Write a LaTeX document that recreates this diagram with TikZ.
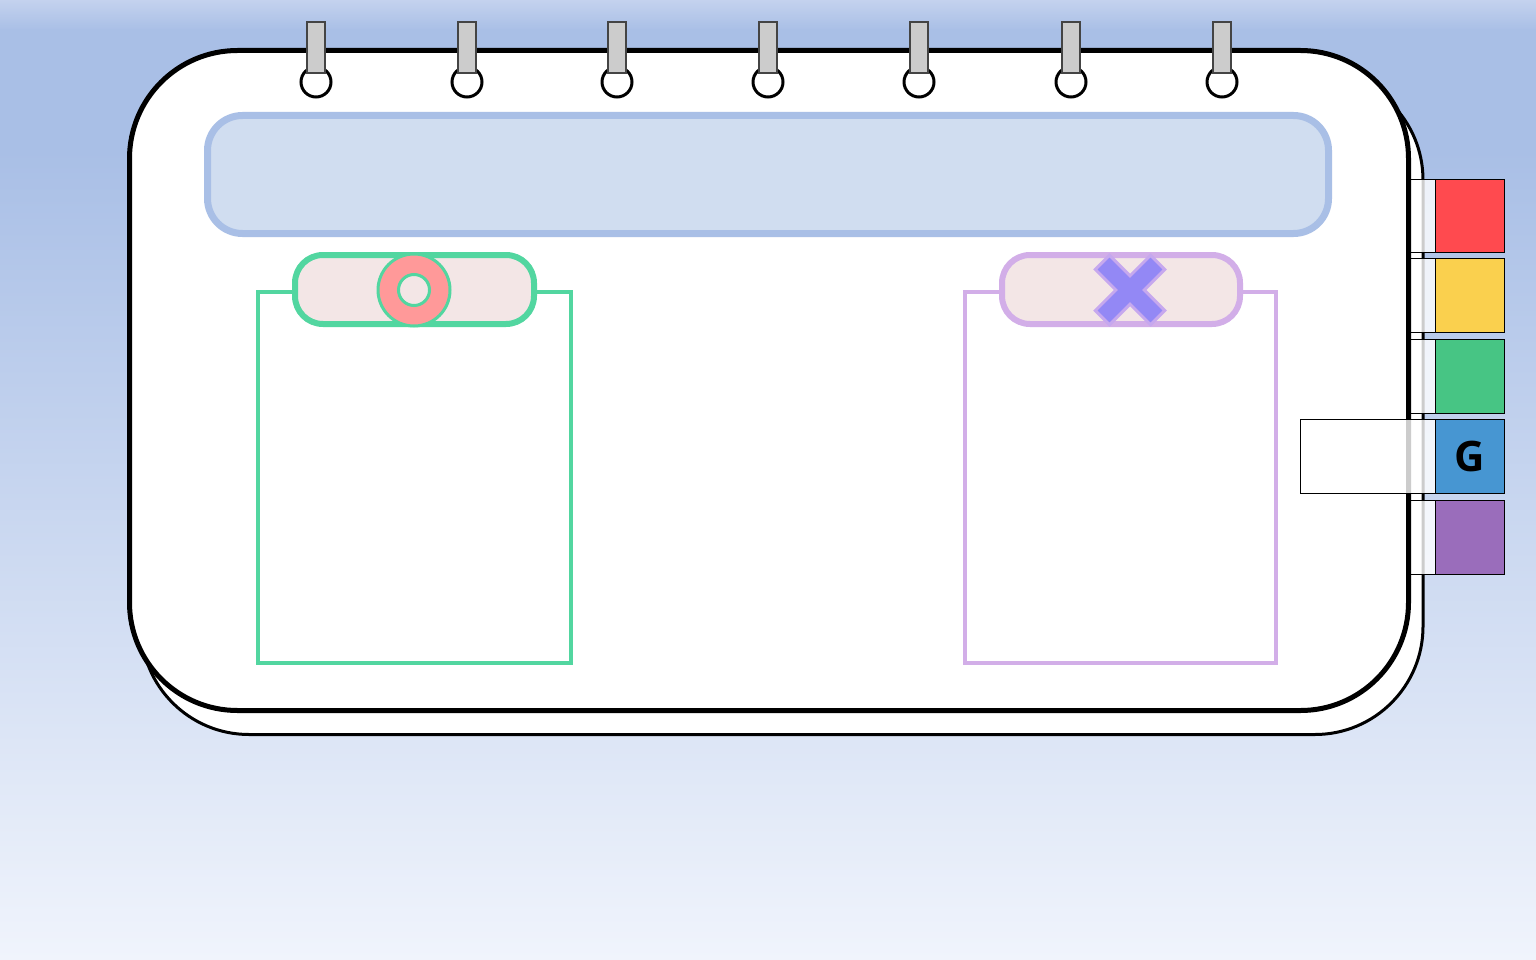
\documentclass[tikz,border=0pt]{standalone}
\usepackage{fontspec}
\newfontfamily\tabfont{Open Sans}
\usetikzlibrary{positioning}

\definecolor{bgtop}{HTML}{C4D2EE}
\definecolor{bgmid}{HTML}{A9BFE6}
\definecolor{bgbot}{HTML}{F0F4FC}
\definecolor{hdrfill}{HTML}{D0DDF0}
\definecolor{hdrline}{HTML}{A9BFE6}
\definecolor{cardgreen}{HTML}{52D6A0}
\definecolor{cardpurple}{HTML}{D2AEE8}
\definecolor{pillfill}{HTML}{F3E6E6}
\definecolor{ringpink}{HTML}{FF9999}
\definecolor{crossblue}{HTML}{9388F5}
\definecolor{crossline}{HTML}{C6A8EE}
\definecolor{barfill}{HTML}{CCCCCC}
\definecolor{barline}{HTML}{444444}
\definecolor{tabred}{HTML}{FF4A4F}
\definecolor{tabyellow}{HTML}{FAD04E}
\definecolor{tabgreen}{HTML}{47C584}
\definecolor{tabblue}{HTML}{4796D2}
\definecolor{tabpurple}{HTML}{9A6DBB}

\begin{document}
\begin{tikzpicture} [x=1pt, y=-1pt,
    page/.style = {draw=black, fill=white, rounded corners=108pt},
    header/.style = {draw=hdrline, fill=hdrfill, line width=7pt, rounded corners=35pt},
    card/.style = {fill=white, line width=4pt},
    pill/.style = {fill=pillfill, line width=6pt, rounded corners=28pt},
    ringhole/.style = {shape=circle, draw=black, fill=white, line width=3pt, minimum size=30pt, inner sep=0},
    ringbar/.style = {shape=rectangle, draw=barline, fill=barfill, line width=2pt, minimum width=18pt, minimum height=51pt, inner sep=0},
    tabback/.style = {draw=black, line width=0.8pt, fill=white, fill opacity=0.8},
    tabface/.style = {draw=black, line width=0.8pt},
    ]
    \useasboundingbox (0,0) rectangle (1536,960);
    % background
    \shade[top color=bgtop, bottom color=bgmid] (0,0) rectangle (1536,30);
    \fill[bgmid] (0,29.5) rectangle (1536,150.5);
    \shade[top color=bgmid, bottom color=bgbot] (0,150) rectangle (1536,960);

    % back page
    \draw[page, line width=3pt] (141,72) rectangle (1423,734.5);

    % tabs behind the front page
    \draw[tabback] (1400,179) rectangle (1435,252);
    \draw[tabface, fill=tabred] (1435,179) rectangle (1504,252);
    \draw[tabback] (1400,258) rectangle (1435,332);
    \draw[tabface, fill=tabyellow] (1435,258) rectangle (1504,332);
    \draw[tabback] (1400,339) rectangle (1435,413);
    \draw[tabface, fill=tabgreen] (1435,339) rectangle (1504,413);
    \draw[tabback] (1400,500) rectangle (1435,574);
    \draw[tabface, fill=tabpurple] (1435,500) rectangle (1504,574);

    % front page
    \draw[page, line width=5pt] (129.5,50.5) rectangle (1408.5,710.5);

    % header bar
    \draw[header] (207.5,115.5) rectangle (1328.5,233.5);

    % left card
    \draw[card, draw=cardgreen] (258,292) rectangle (571,663);
    \draw[pill, draw=cardgreen] (295,255) rectangle (534,324);
    \node[circle, draw=cardgreen, fill=ringpink, line width=3pt, minimum size=72pt, inner sep=0] (ring) at (414,290) {};
    \node[circle, draw=cardgreen, fill=pillfill, line width=3pt, minimum size=31pt, inner sep=0] (ringin) at (ring.center) {};

    % right card
    \draw[card, draw=cardpurple] (965,292) rectangle (1276,663);
    \draw[pill, draw=cardpurple] (1002,255) rectangle (1240,324);
    \draw[fill=crossblue, draw=crossline, line width=3pt, rotate around={45:(1130,290)}, shift={(1130,290)}]
        (10,10) -- (10,39) -- (-10,39) -- (-10,10) -- (-39,10) -- (-39,-10) -- (-10,-10)
        -- (-10,-39) -- (10,-39) -- (10,-10) -- (39,-10) -- (39,10) -- cycle;

    % spiral rings
    \node[ringhole] (h1) at (316,82) {};
    \node[ringhole] (h2) at (467,82) {};
    \node[ringhole] (h3) at (617,82) {};
    \node[ringhole] (h4) at (768,82) {};
    \node[ringhole] (h5) at (919,82) {};
    \node[ringhole] (h6) at (1071,82) {};
    \node[ringhole] (h7) at (1222,82) {};
    \node[ringbar] (b1) at (316,47.5) {};
    \node[ringbar] (b2) at (467,47.5) {};
    \node[ringbar] (b3) at (617,47.5) {};
    \node[ringbar] (b4) at (768,47.5) {};
    \node[ringbar] (b5) at (919,47.5) {};
    \node[ringbar] (b6) at (1071,47.5) {};
    \node[ringbar] (b7) at (1222,47.5) {};

    % selected tab
    \draw[tabback] (1300,419) rectangle (1435,493);
    \draw[tabface, fill=tabblue] (1435,419) rectangle (1504,493);
    \node[font=\tabfont\bfseries\fontsize{42}{42}\selectfont, inner sep=0] (g) at (1469.5,456) {G};
\end{tikzpicture}
\end{document}
